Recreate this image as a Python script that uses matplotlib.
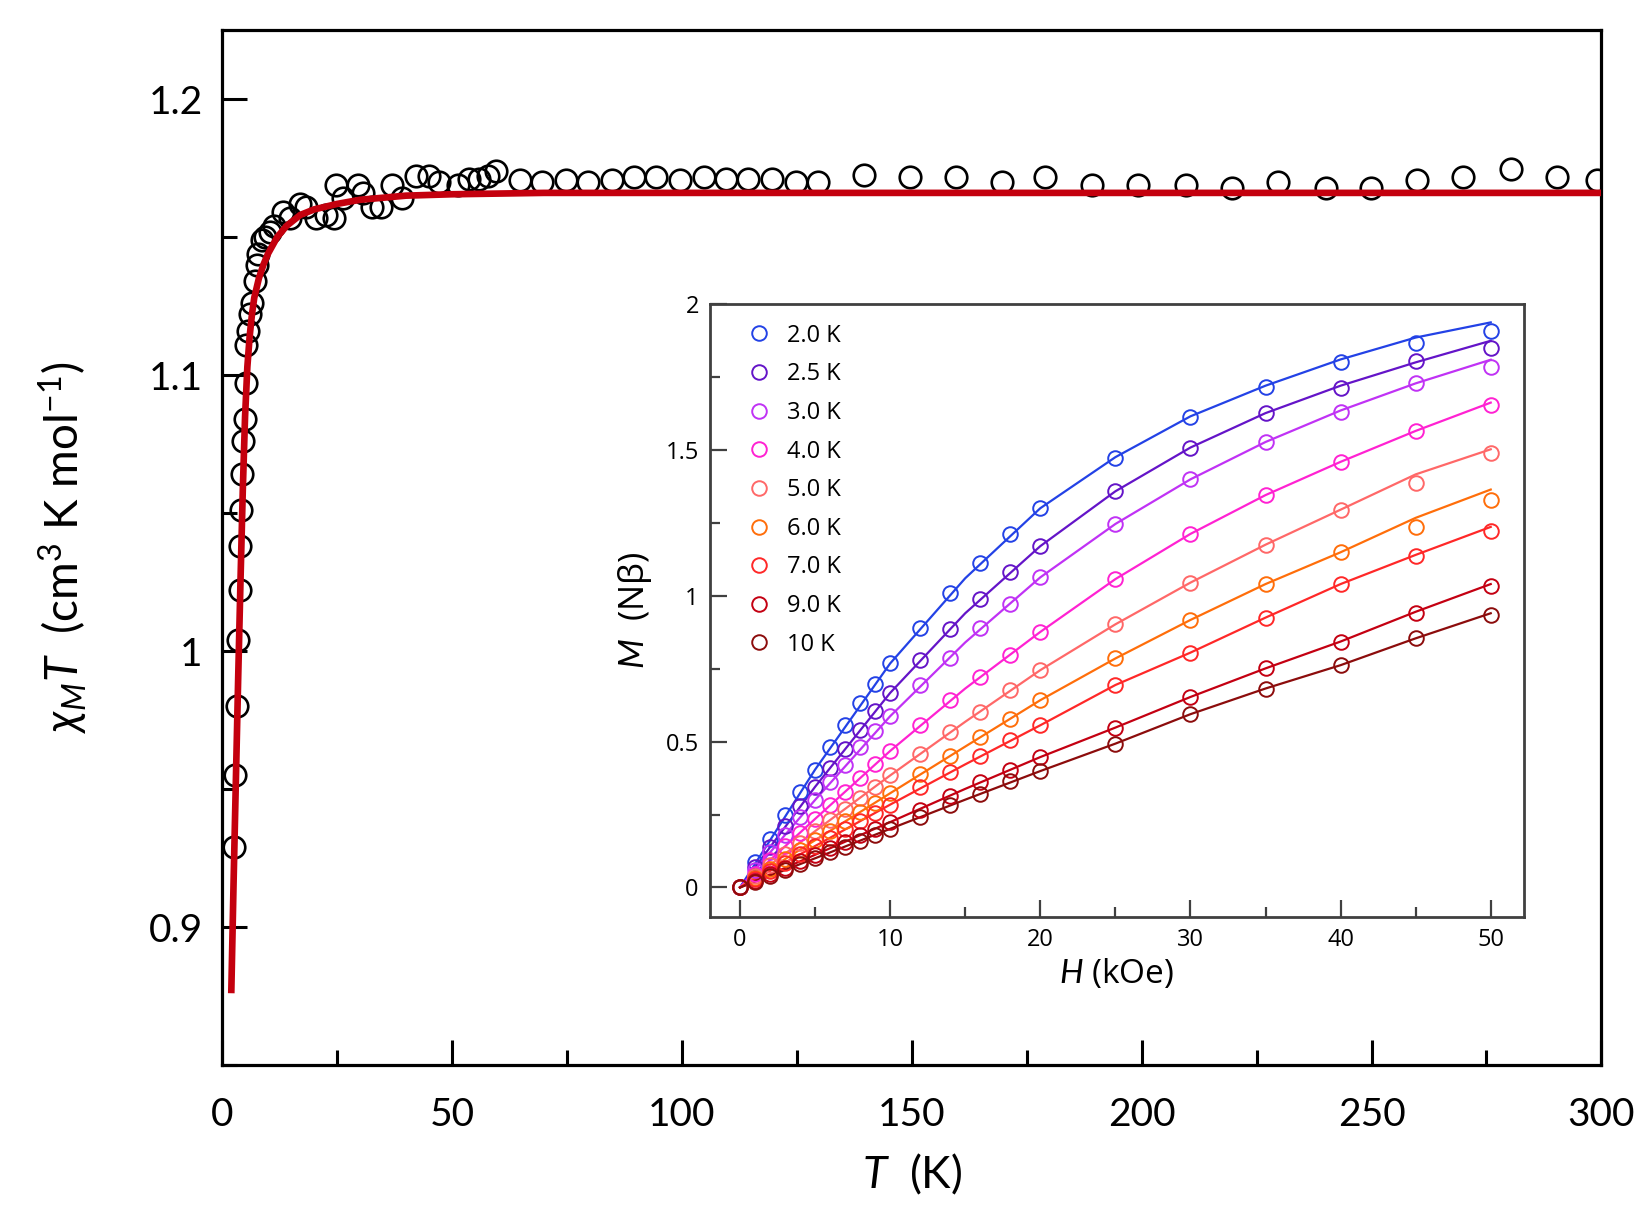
import matplotlib
matplotlib.use("Agg")
import matplotlib.pyplot as plt
from matplotlib.lines import Line2D
from matplotlib.ticker import MultipleLocator, FuncFormatter

# chi_M T vs T (main panel)
T_data = [2.6, 2.9, 3.2, 3.5, 3.8, 4.0, 4.2, 4.4, 4.6, 4.9, 5.1, 5.3, 5.6, 6.1, 6.5,
          7.1, 7.5, 7.8, 8.6, 9.4, 10.4, 11.4, 13.2, 14.7, 16.9, 18.3, 20.5, 22.6,
          24.4, 24.8, 26.2, 29.5, 30.6, 32.7, 34.6, 37.0, 39.2, 42.1, 45.0, 47.1,
          51.4, 53.6, 55.8, 57.9, 59.6, 64.8, 69.6, 74.8, 79.5, 84.7, 89.6, 94.4,
          99.6, 104.8, 109.6, 114.4, 119.6, 124.8, 129.6, 139.6, 149.6, 159.6,
          169.7, 179.0, 189.3, 199.3, 209.6, 219.6, 229.6, 240.0, 249.9, 259.9,
          269.9, 280.3, 290.3, 299.0]
chiT_data = [0.929, 0.955, 0.980, 1.004, 1.022, 1.038, 1.051, 1.064, 1.076, 1.084,
             1.097, 1.111, 1.116, 1.122, 1.126, 1.134, 1.140, 1.144, 1.149, 1.150,
             1.152, 1.154, 1.159, 1.157, 1.162, 1.161, 1.157, 1.158, 1.157, 1.169,
             1.164, 1.169, 1.166, 1.161, 1.161, 1.169, 1.164, 1.172, 1.172, 1.170,
             1.169, 1.171, 1.171, 1.172, 1.174, 1.1705, 1.170, 1.1705, 1.170,
             1.1705, 1.1717, 1.1717, 1.1705, 1.1717, 1.171, 1.171, 1.171, 1.170,
             1.1698, 1.1724, 1.1717, 1.1717, 1.170, 1.1717, 1.1687, 1.169, 1.169,
             1.1676, 1.170, 1.1676, 1.1676, 1.1705, 1.1717, 1.1748, 1.1717, 1.1705]

T_fit = [2.0, 2.5, 3.0, 3.5, 4.0, 4.5, 5.0, 5.5, 6.0, 6.5, 7.0, 8.0, 9.0, 10.0,
         12.0, 14.0, 17.0, 20.0, 25.0, 30.0, 40.0, 50.0, 70.0, 100.0, 150.0,
         200.0, 250.0, 300.0]
chiT_fit = [0.876, 0.916, 0.953, 0.990, 1.025, 1.058, 1.085, 1.103, 1.114, 1.122,
            1.128, 1.135, 1.140, 1.144, 1.150, 1.154, 1.158, 1.160, 1.162, 1.1635,
            1.165, 1.1655, 1.166, 1.166, 1.166, 1.166, 1.166, 1.166]

# M vs H (inset)
H_data = [0, 1, 2, 3, 4, 5, 6, 7, 8, 9, 10, 12, 14, 16, 18, 20, 25, 30, 35, 40, 45, 50]
temps = ['2.0 K', '2.5 K', '3.0 K', '4.0 K', '5.0 K', '6.0 K', '7.0 K', '9.0 K', '10 K']
colors = ['#2342e6', '#6414c8', '#c032f5', '#ff22d2', '#ff6868', '#ff6e0a',
          '#ff2828', '#c40012', '#8c0c0c']

M_2p0 = [0, 0.086, 0.166, 0.25, 0.327, 0.404, 0.481, 0.556, 0.631, 0.699, 0.768,
         0.89, 1.01, 1.113, 1.21, 1.30, 1.473, 1.611, 1.714, 1.80, 1.866, 1.909]
M_2p5 = [0, 0.07, 0.14, 0.21, 0.28, 0.345, 0.41, 0.475, 0.54, 0.605, 0.667,
         0.779, 0.885, 0.99, 1.08, 1.17, 1.358, 1.508, 1.626, 1.713, 1.806, 1.848]
M_3p0 = [0, 0.06, 0.12, 0.18, 0.24, 0.30, 0.36, 0.42, 0.48, 0.535, 0.587,
         0.694, 0.786, 0.89, 0.973, 1.063, 1.246, 1.399, 1.527, 1.630, 1.728, 1.783]
M_4p0 = [0, 0.047, 0.094, 0.141, 0.188, 0.235, 0.282, 0.328, 0.375, 0.422, 0.468,
         0.556, 0.642, 0.722, 0.797, 0.876, 1.057, 1.212, 1.345, 1.459, 1.565, 1.654]
M_5p0 = [0, 0.039, 0.077, 0.116, 0.154, 0.193, 0.231, 0.27, 0.308, 0.346, 0.384,
         0.459, 0.533, 0.602, 0.676, 0.745, 0.902, 1.045, 1.175, 1.295, 1.387, 1.488]
M_6p0 = [0, 0.032, 0.065, 0.097, 0.13, 0.162, 0.194, 0.227, 0.259, 0.291, 0.323,
         0.388, 0.449, 0.516, 0.579, 0.642, 0.785, 0.917, 1.040, 1.149, 1.235, 1.327]
M_7p0 = [0, 0.028, 0.057, 0.085, 0.114, 0.142, 0.170, 0.199, 0.227, 0.256, 0.284,
         0.344, 0.395, 0.449, 0.504, 0.556, 0.694, 0.805, 0.925, 1.040, 1.135, 1.221]
M_9p0 = [0, 0.022, 0.045, 0.067, 0.09, 0.112, 0.134, 0.157, 0.179, 0.202, 0.224,
         0.264, 0.315, 0.361, 0.404, 0.447, 0.548, 0.653, 0.751, 0.843, 0.940, 1.032]
M_10 = [0, 0.02, 0.04, 0.06, 0.08, 0.10, 0.12, 0.14, 0.16, 0.18, 0.201,
        0.241, 0.281, 0.321, 0.365, 0.399, 0.493, 0.594, 0.682, 0.762, 0.854, 0.934]
M_series = [M_2p0, M_2p5, M_3p0, M_4p0, M_5p0, M_6p0, M_7p0, M_9p0, M_10]

# fitted curves
H_fit = [0, 5, 10, 15, 20, 25, 30, 35, 40, 45, 50]
Mfit_2p0 = [0, 0.404, 0.768, 1.06, 1.30, 1.475, 1.615, 1.72, 1.81, 1.885, 1.937]
Mfit_2p5 = [0, 0.345, 0.667, 0.94, 1.17, 1.358, 1.508, 1.626, 1.72, 1.80, 1.874]
Mfit_3p0 = [0, 0.30, 0.587, 0.84, 1.063, 1.246, 1.399, 1.527, 1.635, 1.728, 1.809]
Mfit_4p0 = [0, 0.235, 0.468, 0.682, 0.876, 1.057, 1.212, 1.345, 1.459, 1.565, 1.662]
Mfit_5p0 = [0, 0.193, 0.384, 0.568, 0.745, 0.902, 1.045, 1.175, 1.295, 1.416, 1.502]
Mfit_6p0 = [0, 0.162, 0.323, 0.483, 0.642, 0.785, 0.917, 1.040, 1.149, 1.267, 1.364]
Mfit_7p0 = [0, 0.142, 0.284, 0.422, 0.556, 0.694, 0.805, 0.925, 1.040, 1.14, 1.236]
Mfit_9p0 = [0, 0.112, 0.224, 0.338, 0.447, 0.548, 0.653, 0.751, 0.843, 0.945, 1.04]
Mfit_10 = [0, 0.10, 0.201, 0.301, 0.399, 0.493, 0.594, 0.682, 0.762, 0.854, 0.94]
Mfit_series = [Mfit_2p0, Mfit_2p5, Mfit_3p0, Mfit_4p0, Mfit_5p0, Mfit_6p0,
               Mfit_7p0, Mfit_9p0, Mfit_10]

plt.rcParams['font.family'] = ['Lato', 'DejaVu Sans']
plt.rcParams['mathtext.fontset'] = 'custom'
plt.rcParams['mathtext.rm'] = 'Lato'
plt.rcParams['mathtext.it'] = 'Lato:italic'

fig = plt.figure(figsize=(16.45, 12.17), dpi=100)

# ---- main panel ----
ax = fig.add_axes([0.135, 0.1249, 0.8385, 0.8504])
ax.plot(T_data, chiT_data, ls='none', marker='o', ms=15.5, mfc='none',
        mec='black', mew=1.9, zorder=2)
ax.plot(T_fit, chiT_fit, color='#c4000e', lw=4.8, zorder=3, solid_capstyle='butt')
ax.set_xlim(0, 300)
ax.set_ylim(0.85, 1.225)
ax.xaxis.set_major_locator(MultipleLocator(50))
ax.xaxis.set_minor_locator(MultipleLocator(25))
ax.yaxis.set_major_locator(MultipleLocator(0.1))
ax.yaxis.set_minor_locator(MultipleLocator(0.05))
ax.yaxis.set_major_formatter(FuncFormatter(lambda v, p: '{:g}'.format(round(v, 2))))
for s in ax.spines.values():
    s.set_linewidth(2.3)
ax.tick_params(which='both', direction='in', width=2.2, top=False, right=False)
ax.tick_params(which='major', length=18, labelsize=28)
ax.tick_params(which='minor', length=11)
ax.tick_params(axis='x', which='major', pad=23)
ax.tick_params(axis='y', which='major', pad=14)
ax.set_xlabel('$T$  (K)', fontsize=32, labelpad=14)
ax.set_ylabel('$\\chi_M T$  (cm$^3$ K mol$^{-1}$)', fontsize=33, labelpad=42)

# ---- inset ----
ins = fig.add_axes([0.4316, 0.2468, 0.4947, 0.5034])
ins.set_facecolor('white')
for M, Mf, c in zip(M_series, Mfit_series, colors):
    ins.plot(H_fit, Mf, color=c, lw=1.6, zorder=2)
    ins.plot(H_data, M, ls='none', marker='o', ms=10.5, mfc='none', mec=c,
             mew=1.4, zorder=3)
ins.set_xlim(-2, 52.2)
ins.set_ylim(-0.1, 2.0)
ins.xaxis.set_major_locator(MultipleLocator(10))
ins.xaxis.set_minor_locator(MultipleLocator(5))
ins.yaxis.set_major_locator(MultipleLocator(0.5))
ins.yaxis.set_minor_locator(MultipleLocator(0.25))
ins.yaxis.set_major_formatter(FuncFormatter(lambda v, p: '{:g}'.format(v)))
for s in ins.spines.values():
    s.set_linewidth(2.0)
    s.set_color('#404040')
ins.tick_params(which='both', direction='in', width=1.6, color='#404040',
                top=False, right=False)
ins.tick_params(which='major', length=12, labelsize=17, pad=8)
ins.tick_params(which='minor', length=7)
for lbl in ins.get_xticklabels() + ins.get_yticklabels():
    lbl.set_family(['Open Sans', 'DejaVu Sans'])
ins.set_xlabel('$H$ (kOe)', fontsize=24, labelpad=4, family=['Open Sans', 'DejaVu Sans'])
ins.set_ylabel('$M$  (N\u03b2)', fontsize=25, labelpad=8, family=['Open Sans', 'DejaVu Sans'])

handles = [Line2D([], [], ls='none', marker='o', ms=10.5, mfc='none', mec=c, mew=1.4)
           for c in colors]
leg = ins.legend(handles, temps, loc='upper left', bbox_to_anchor=(0.025, 0.995),
                 frameon=False, handlelength=1.0, handletextpad=0.7,
                 labelspacing=0.62, borderpad=0.2,
                 prop={'family': ['Open Sans', 'DejaVu Sans'], 'size': 17})

fig.savefig('out.png', dpi=100)
